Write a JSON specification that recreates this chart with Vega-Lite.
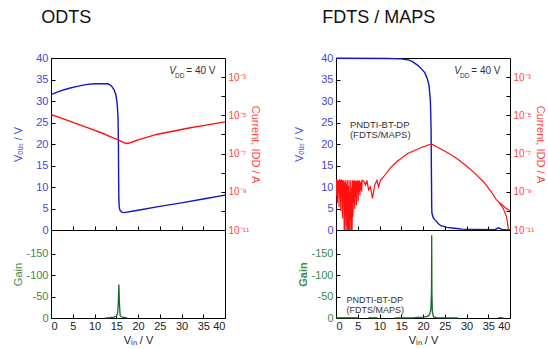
{
  "$schema": "https://vega.github.io/schema/vega-lite/v6.json",
  "background": "white",
  "padding": {"left": 12, "top": 8, "right": 2, "bottom": 2},
  "config": {
    "font": "Liberation Sans",
    "view": {"stroke": "black", "strokeWidth": 1},
    "axis": {"domain": false, "grid": false, "tickColor": "black", "tickSize": -4, "labelPadding": 7, "labelOverlap": false, "labelFontSize": 11, "titleFontSize": 11, "titleFontWeight": "normal", "labelFont": "Liberation Sans", "titleFont": "Liberation Sans", "labelColor": "#222", "titleColor": "#222"},
    "title": {"anchor": "start", "fontSize": 18, "fontWeight": "normal", "font": "Liberation Sans", "color": "#111", "offset": 25}
  },
  "datasets": {
    "odts_vout": [
      {"vin": 0, "vout": 31.5}, {"vin": 2, "vout": 32.3}, {"vin": 4, "vout": 32.9}, {"vin": 6, "vout": 33.4}, {"vin": 8, "vout": 33.8}, {"vin": 10, "vout": 34.0}, {"vin": 12, "vout": 34.05}, {"vin": 13.1, "vout": 34.0}, {"vin": 13.9, "vout": 33.5}, {"vin": 14.5, "vout": 32.6}, {"vin": 14.9, "vout": 31.5}, {"vin": 15.2, "vout": 29.5}, {"vin": 15.4, "vout": 26.5}, {"vin": 15.5, "vout": 20}, {"vin": 15.55, "vout": 12}, {"vin": 15.6, "vout": 7}, {"vin": 15.7, "vout": 5.2}, {"vin": 15.9, "vout": 4.5}, {"vin": 16.3, "vout": 4.15}, {"vin": 16.8, "vout": 4.05}, {"vin": 20, "vout": 4.6}, {"vin": 25, "vout": 5.5}, {"vin": 30, "vout": 6.3}, {"vin": 35, "vout": 7.2}, {"vin": 40, "vout": 8.1}
    ],
    "odts_idd": [
      {"vin": 0, "idd": 1.12e-5}, {"vin": 3, "idd": 6.31e-6}, {"vin": 6, "idd": 3.55e-6}, {"vin": 9, "idd": 2.0e-6}, {"vin": 12, "idd": 1.12e-6}, {"vin": 14, "idd": 7.08e-7}, {"vin": 15.6, "idd": 5.01e-7}, {"vin": 16.5, "idd": 3.98e-7}, {"vin": 17.3, "idd": 3.39e-7}, {"vin": 18, "idd": 3.55e-7}, {"vin": 19, "idd": 4.27e-7}, {"vin": 20, "idd": 5.25e-7}, {"vin": 22, "idd": 7.08e-7}, {"vin": 24.2, "idd": 1.0e-6}, {"vin": 28, "idd": 1.48e-6}, {"vin": 32, "idd": 2.24e-6}, {"vin": 36, "idd": 3.16e-6}, {"vin": 40, "idd": 4.57e-6}
    ],
    "odts_gain": [
      {"vin": 12.5, "gain": -0.5}, {"vin": 13.5, "gain": -1}, {"vin": 14.5, "gain": -2}, {"vin": 15.0, "gain": -4}, {"vin": 15.3, "gain": -10}, {"vin": 15.45, "gain": -30}, {"vin": 15.6, "gain": -78}, {"vin": 15.75, "gain": -30}, {"vin": 15.9, "gain": -6}, {"vin": 16.3, "gain": -2}, {"vin": 17.5, "gain": -0.5}
    ],
    "fdts_vout": [
      {"vin": 0, "vout": 39.95}, {"vin": 12, "vout": 39.9}, {"vin": 15, "vout": 39.8}, {"vin": 16.5, "vout": 39.6}, {"vin": 17.5, "vout": 39.2}, {"vin": 18.8, "vout": 38.3}, {"vin": 19.8, "vout": 37.3}, {"vin": 20.4, "vout": 36.6}, {"vin": 21.0, "vout": 35.2}, {"vin": 21.4, "vout": 33.5}, {"vin": 21.7, "vout": 30}, {"vin": 21.85, "vout": 24}, {"vin": 21.95, "vout": 12}, {"vin": 22.0, "vout": 5.5}, {"vin": 22.05, "vout": 4.0}, {"vin": 22.3, "vout": 3.0}, {"vin": 22.8, "vout": 2.3}, {"vin": 23.5, "vout": 1.5}, {"vin": 24.1, "vout": 1.0}, {"vin": 25.5, "vout": 0.6}, {"vin": 27.2, "vout": 0.4}, {"vin": 29, "vout": 0.2}, {"vin": 32, "vout": 0.1}, {"vin": 36.5, "vout": 0.05}, {"vin": 37.3, "vout": 0.5}, {"vin": 37.8, "vout": 0.3}, {"vin": 38.3, "vout": 0.05}, {"vin": 40, "vout": 0.0}
    ],
    "fdts_idd": [
      {"seg": "a", "vin": 0.0, "idd": 3.98e-9}, {"seg": "a", "vin": 0.1, "idd": 6.31e-10}, {"seg": "a", "vin": 0.2, "idd": 4.47e-9}, {"seg": "a", "vin": 0.3, "idd": 2.51e-10}, {"seg": "a", "vin": 0.4, "idd": 3.98e-9}, {"seg": "a", "vin": 0.5, "idd": 1.0e-9}, {"seg": "a", "vin": 0.6, "idd": 3.98e-9}, {"seg": "a", "vin": 0.7, "idd": 1.58e-10}, {"seg": "a", "vin": 0.8, "idd": 4.47e-9}, {"seg": "a", "vin": 0.9, "idd": 5.01e-10},
      {"seg": "a", "vin": 1.0, "idd": 3.98e-9}, {"seg": "a", "vin": 1.1, "idd": 1.0e-10}, {"seg": "a", "vin": 1.2, "idd": 4.47e-9}, {"seg": "a", "vin": 1.3, "idd": 3.16e-10}, {"seg": "a", "vin": 1.4, "idd": 3.98e-9}, {"seg": "a", "vin": 1.5, "idd": 3.98e-11}, {"seg": "a", "vin": 1.6, "idd": 3.98e-9}, {"seg": "a", "vin": 1.7, "idd": 7.94e-10}, {"seg": "a", "vin": 1.8, "idd": 3.98e-9}, {"seg": "a", "vin": 1.9, "idd": 3.16e-12},
      {"seg": "a", "vin": 2.0, "idd": 3.16e-9}, {"seg": "a", "vin": 2.1, "idd": 6.31e-11}, {"seg": "a", "vin": 2.2, "idd": 3.98e-9}, {"seg": "a", "vin": 2.3, "idd": 1.0e-12}, {"seg": "a", "vin": 2.4, "idd": 2.51e-9}, {"seg": "a", "vin": 2.5, "idd": 1.58e-11}, {"seg": "a", "vin": 2.6, "idd": 3.98e-9}, {"seg": "a", "vin": 2.7, "idd": 1.0e-12}, {"seg": "a", "vin": 2.8, "idd": 2.0e-9}, {"seg": "a", "vin": 2.9, "idd": 6.31e-12},
      {"seg": "a", "vin": 3.0, "idd": 3.98e-9}, {"seg": "a", "vin": 3.1, "idd": 1.0e-12}, {"seg": "a", "vin": 3.2, "idd": 1.0e-9}, {"seg": "a", "vin": 3.3, "idd": 3.16e-11}, {"seg": "a", "vin": 3.4, "idd": 3.98e-9}, {"seg": "a", "vin": 3.5, "idd": 1.0e-12}, {"seg": "a", "vin": 3.6, "idd": 1.58e-9}, {"seg": "a", "vin": 3.7, "idd": 1.0e-11}, {"seg": "a", "vin": 3.8, "idd": 3.98e-9}, {"seg": "a", "vin": 3.9, "idd": 5.01e-11},
      {"seg": "a", "vin": 4.0, "idd": 3.55e-9}, {"seg": "a", "vin": 4.1, "idd": 2.51e-10}, {"seg": "a", "vin": 4.2, "idd": 3.98e-9}, {"seg": "a", "vin": 4.3, "idd": 1.26e-10}, {"seg": "a", "vin": 4.4, "idd": 3.55e-9}, {"seg": "a", "vin": 4.5, "idd": 5.01e-10}, {"seg": "a", "vin": 4.6, "idd": 3.98e-9}, {"seg": "a", "vin": 4.7, "idd": 2.0e-10}, {"seg": "a", "vin": 4.8, "idd": 3.55e-9}, {"seg": "a", "vin": 4.9, "idd": 7.94e-10},
      {"seg": "a", "vin": 5.0, "idd": 3.98e-9}, {"seg": "a", "vin": 5.1, "idd": 3.16e-10}, {"seg": "a", "vin": 5.2, "idd": 3.55e-9}, {"seg": "a", "vin": 5.3, "idd": 1.0e-9}, {"seg": "a", "vin": 5.4, "idd": 3.98e-9}, {"seg": "a", "vin": 5.5, "idd": 6.31e-10}, {"seg": "a", "vin": 5.6, "idd": 3.16e-9}, {"seg": "a", "vin": 5.7, "idd": 1.26e-9}, {"seg": "a", "vin": 5.8, "idd": 3.55e-9}, {"seg": "a", "vin": 5.9, "idd": 1.0e-9},
      {"seg": "a", "vin": 6.0, "idd": 3.98e-9}, {"seg": "a", "vin": 6.4, "idd": 3.55e-9}, {"seg": "a", "vin": 6.8, "idd": 2.24e-9}, {"seg": "a", "vin": 7.1, "idd": 3.98e-9}, {"seg": "a", "vin": 7.5, "idd": 1.26e-9}, {"seg": "a", "vin": 7.9, "idd": 1.78e-9}, {"seg": "a", "vin": 8.4, "idd": 4.47e-10}, {"seg": "a", "vin": 8.9, "idd": 2.24e-9}, {"seg": "a", "vin": 9.4, "idd": 3.98e-9}, {"seg": "a", "vin": 9.8, "idd": 1.78e-9},
      {"seg": "a", "vin": 10.2, "idd": 3.98e-9}, {"seg": "a", "vin": 11.0, "idd": 6.31e-9}, {"seg": "a", "vin": 12.5, "idd": 1.78e-8}, {"seg": "a", "vin": 14.1, "idd": 3.98e-8}, {"seg": "a", "vin": 16.5, "idd": 1.0e-7}, {"seg": "a", "vin": 19.5, "idd": 2.0e-7}, {"seg": "a", "vin": 21.9, "idd": 3.16e-7}, {"seg": "a", "vin": 24, "idd": 1.78e-7}, {"seg": "a", "vin": 26, "idd": 1.0e-7}, {"seg": "a", "vin": 28, "idd": 5.01e-8},
      {"seg": "a", "vin": 30, "idd": 2.24e-8}, {"seg": "a", "vin": 32, "idd": 8.91e-9}, {"seg": "a", "vin": 34, "idd": 3.16e-9}, {"seg": "a", "vin": 35.7, "idd": 1.0e-9}, {"seg": "a", "vin": 36.8, "idd": 3.98e-10}, {"seg": "a", "vin": 38, "idd": 2.24e-10}, {"seg": "a", "vin": 39, "idd": 1.41e-10}, {"seg": "a", "vin": 40, "idd": 1.0e-10},
      {"seg": "b", "vin": 37.5, "idd": 2.82e-10}, {"seg": "b", "vin": 38.5, "idd": 1.26e-10}, {"seg": "b", "vin": 39.2, "idd": 5.01e-11}, {"seg": "b", "vin": 39.6, "idd": 1.26e-11}, {"seg": "b", "vin": 39.8, "idd": 3.16e-12}
    ],
    "fdts_gain": [
      {"seg": "a", "vin": 0, "gain": -0.5}, {"seg": "a", "vin": 5, "gain": -0.5},
      {"seg": "b", "vin": 7.5, "gain": -0.5}, {"seg": "b", "vin": 9.5, "gain": -0.5},
      {"seg": "c", "vin": 13.5, "gain": -0.5}, {"seg": "c", "vin": 18, "gain": -1}, {"seg": "c", "vin": 20, "gain": -2}, {"seg": "c", "vin": 21, "gain": -4}, {"seg": "c", "vin": 21.5, "gain": -8}, {"seg": "c", "vin": 21.8, "gain": -20}, {"seg": "c", "vin": 21.95, "gain": -60}, {"seg": "c", "vin": 22.0, "gain": -193}, {"seg": "c", "vin": 22.05, "gain": -60}, {"seg": "c", "vin": 22.15, "gain": -15}, {"seg": "c", "vin": 22.4, "gain": -3}, {"seg": "c", "vin": 23, "gain": -1}, {"seg": "c", "vin": 28, "gain": -0.5},
      {"seg": "d", "vin": 37.3, "gain": -1}, {"seg": "d", "vin": 38.5, "gain": -0.5}
    ]
  },
  "spacing": 31,
  "hconcat": [
    {
      "title": {"text": "ODTS", "dx": 29},
      "spacing": 0,
      "bounds": "flush",
      "vconcat": [
        {
          "width": 174, "height": 172,
          "layer": [
            {
              "layer": [
                {"data": {"name": "odts_vout"}, "mark": {"type": "line", "color": "#1414c8", "strokeWidth": 1.4},
                 "encoding": {
                   "x": {"field": "vin", "type": "quantitative", "scale": {"domain": [0, 40], "nice": false}, "axis": {"values": [0, 5, 10, 15, 20, 25, 30, 35, 40], "labels": false, "title": null}},
                   "y": {"field": "vout", "type": "quantitative", "scale": {"domain": [0, 40], "nice": false}, "axis": {"values": [0, 5, 10, 15, 20, 25, 30, 35, 40], "title": "Vₒᵤₜ / V", "labelColor": "#4646dc", "titleColor": "#4646dc", "titlePadding": 12}}
                 }},
                {"data": {"values": [{}]}, "mark": {"type": "text", "text": "V", "fontStyle": "italic", "fontSize": 10, "align": "left", "baseline": "alphabetic", "color": "#333"}, "encoding": {"x": {"datum": 27.2, "type": "quantitative", "axis": {"values": [0, 5, 10, 15, 20, 25, 30, 35, 40], "labels": false, "title": null}}, "y": {"datum": 36.2, "type": "quantitative", "axis": {"values": [0, 5, 10, 15, 20, 25, 30, 35, 40], "title": "Vₒᵤₜ / V", "labelColor": "#4646dc", "titleColor": "#4646dc", "titlePadding": 12}}}},
                {"data": {"values": [{}]}, "mark": {"type": "text", "text": "DD", "fontSize": 6.5, "align": "left", "baseline": "alphabetic", "color": "#333"}, "encoding": {"x": {"datum": 28.5, "type": "quantitative", "axis": {"values": [0, 5, 10, 15, 20, 25, 30, 35, 40], "labels": false, "title": null}}, "y": {"datum": 35.4, "type": "quantitative", "axis": {"values": [0, 5, 10, 15, 20, 25, 30, 35, 40], "title": "Vₒᵤₜ / V", "labelColor": "#4646dc", "titleColor": "#4646dc", "titlePadding": 12}}}},
                {"data": {"values": [{}]}, "mark": {"type": "text", "text": "= 40 V", "fontSize": 10, "align": "left", "baseline": "alphabetic", "color": "#333"}, "encoding": {"x": {"datum": 31.1, "type": "quantitative", "axis": {"values": [0, 5, 10, 15, 20, 25, 30, 35, 40], "labels": false, "title": null}}, "y": {"datum": 36.2, "type": "quantitative", "axis": {"values": [0, 5, 10, 15, 20, 25, 30, 35, 40], "title": "Vₒᵤₜ / V", "labelColor": "#4646dc", "titleColor": "#4646dc", "titlePadding": 12}}}}
              ]
            },
            {"data": {"name": "odts_idd"}, "mark": {"type": "line", "color": "#ff1010", "strokeWidth": 1.4, "clip": true},
             "encoding": {
               "x": {"field": "vin", "type": "quantitative", "axis": {"values": [0, 5, 10, 15, 20, 25, 30, 35, 40], "labels": false, "title": null}},
               "y": {"field": "idd", "type": "quantitative", "scale": {"type": "log", "domain": [1e-11, 1e-2]}, "axis": {"orient": "right", "values": [1e-11, 1e-10, 1e-9, 1e-8, 1e-7, 1e-6, 1e-5, 1e-4, 1e-3], "labelExpr": "round(log(datum.value)/LN10) == -3 ? '10⁻³' : round(log(datum.value)/LN10) == -5 ? '10⁻⁵' : round(log(datum.value)/LN10) == -7 ? '10⁻⁷' : round(log(datum.value)/LN10) == -9 ? '10⁻⁹' : round(log(datum.value)/LN10) == -11 ? '10⁻¹¹' : ''", "labelFontSize": 10, "title": "Current, IDD / A", "labelColor": "#ff4848", "titleColor": "#ff4848", "titlePadding": 1}}
             }}
          ],
          "resolve": {"scale": {"y": "independent"}}
        },
        {
          "width": 174, "height": 88,
          "data": {"name": "odts_gain"},
          "mark": {"type": "line", "color": "#1b6a2a", "strokeWidth": 1.3},
          "encoding": {
            "x": {"field": "vin", "type": "quantitative", "scale": {"domain": [0, 40], "nice": false}, "axis": {"values": [0, 5, 10, 15, 20, 25, 30, 35, 40], "title": "Vᵢₙ / V", "labelPadding": 6, "titlePadding": 3}},
            "y": {"field": "gain", "type": "quantitative", "scale": {"domain": [0, -205], "nice": false}, "axis": {"values": [0, -50, -100, -150], "labelExpr": "datum.value == 0 ? '0' : '-' + abs(datum.value)", "title": "Gain", "labelColor": "#3c8c4a", "titleColor": "#3c8c4a", "titlePadding": 2}}
          }
        }
      ]
    },
    {
      "title": {"text": "FDTS / MAPS", "dx": 29},
      "spacing": 0,
      "bounds": "flush",
      "vconcat": [
        {
          "width": 174, "height": 172,
          "layer": [
            {
              "layer": [
                {"data": {"name": "fdts_vout"}, "mark": {"type": "line", "color": "#1414c8", "strokeWidth": 1.4},
                 "encoding": {
                   "x": {"field": "vin", "type": "quantitative", "scale": {"domain": [0, 40], "nice": false}, "axis": {"values": [0, 5, 10, 15, 20, 25, 30, 35, 40], "labels": false, "title": null}},
                   "y": {"field": "vout", "type": "quantitative", "scale": {"domain": [0, 40], "nice": false}, "axis": {"values": [0, 5, 10, 15, 20, 25, 30, 35, 40], "title": "Vₒᵤₜ / V", "labelColor": "#4646dc", "titleColor": "#4646dc", "titlePadding": 16}}
                 }},
                {"data": {"values": [{}]}, "mark": {"type": "text", "text": "V", "fontStyle": "italic", "fontSize": 10, "align": "left", "baseline": "alphabetic", "color": "#333"}, "encoding": {"x": {"datum": 27.2, "type": "quantitative", "axis": {"values": [0, 5, 10, 15, 20, 25, 30, 35, 40], "labels": false, "title": null}}, "y": {"datum": 36.2, "type": "quantitative", "axis": {"values": [0, 5, 10, 15, 20, 25, 30, 35, 40], "title": "Vₒᵤₜ / V", "labelColor": "#4646dc", "titleColor": "#4646dc", "titlePadding": 16}}}},
                {"data": {"values": [{}]}, "mark": {"type": "text", "text": "DD", "fontSize": 6.5, "align": "left", "baseline": "alphabetic", "color": "#333"}, "encoding": {"x": {"datum": 28.5, "type": "quantitative", "axis": {"values": [0, 5, 10, 15, 20, 25, 30, 35, 40], "labels": false, "title": null}}, "y": {"datum": 35.4, "type": "quantitative", "axis": {"values": [0, 5, 10, 15, 20, 25, 30, 35, 40], "title": "Vₒᵤₜ / V", "labelColor": "#4646dc", "titleColor": "#4646dc", "titlePadding": 16}}}},
                {"data": {"values": [{}]}, "mark": {"type": "text", "text": "= 40 V", "fontSize": 10, "align": "left", "baseline": "alphabetic", "color": "#333"}, "encoding": {"x": {"datum": 31.1, "type": "quantitative", "axis": {"values": [0, 5, 10, 15, 20, 25, 30, 35, 40], "labels": false, "title": null}}, "y": {"datum": 36.2, "type": "quantitative", "axis": {"values": [0, 5, 10, 15, 20, 25, 30, 35, 40], "title": "Vₒᵤₜ / V", "labelColor": "#4646dc", "titleColor": "#4646dc", "titlePadding": 16}}}},
                {"data": {"values": [{}]}, "mark": {"type": "text", "text": "PNDTI-BT-DP", "fontSize": 9.5, "align": "left", "baseline": "alphabetic", "color": "#333"}, "encoding": {"x": {"datum": 3.2, "type": "quantitative", "axis": {"values": [0, 5, 10, 15, 20, 25, 30, 35, 40], "labels": false, "title": null}}, "y": {"datum": 23.8, "type": "quantitative", "axis": {"values": [0, 5, 10, 15, 20, 25, 30, 35, 40], "title": "Vₒᵤₜ / V", "labelColor": "#4646dc", "titleColor": "#4646dc", "titlePadding": 16}}}},
                {"data": {"values": [{}]}, "mark": {"type": "text", "text": "(FDTS/MAPS)", "fontSize": 9.5, "align": "left", "baseline": "alphabetic", "color": "#333"}, "encoding": {"x": {"datum": 3.2, "type": "quantitative", "axis": {"values": [0, 5, 10, 15, 20, 25, 30, 35, 40], "labels": false, "title": null}}, "y": {"datum": 21.4, "type": "quantitative", "axis": {"values": [0, 5, 10, 15, 20, 25, 30, 35, 40], "title": "Vₒᵤₜ / V", "labelColor": "#4646dc", "titleColor": "#4646dc", "titlePadding": 16}}}}
              ]
            },
            {"data": {"name": "fdts_idd"}, "mark": {"type": "line", "color": "#ff1010", "strokeWidth": 1.2, "clip": true},
             "encoding": {
               "x": {"field": "vin", "type": "quantitative", "axis": {"values": [0, 5, 10, 15, 20, 25, 30, 35, 40], "labels": false, "title": null}},
               "detail": {"field": "seg"},
               "y": {"field": "idd", "type": "quantitative", "scale": {"type": "log", "domain": [1e-11, 1e-2]}, "axis": {"orient": "right", "values": [1e-11, 1e-10, 1e-9, 1e-8, 1e-7, 1e-6, 1e-5, 1e-4, 1e-3], "labelExpr": "round(log(datum.value)/LN10) == -3 ? '10⁻³' : round(log(datum.value)/LN10) == -5 ? '10⁻⁵' : round(log(datum.value)/LN10) == -7 ? '10⁻⁷' : round(log(datum.value)/LN10) == -9 ? '10⁻⁹' : round(log(datum.value)/LN10) == -11 ? '10⁻¹¹' : ''", "labelFontSize": 10, "title": "Current, IDD / A", "labelColor": "#ff4848", "titleColor": "#ff4848", "titlePadding": 1}}
             }}
          ],
          "resolve": {"scale": {"y": "independent"}}
        },
        {
          "width": 174, "height": 88,
          "layer": [
            {"data": {"name": "fdts_gain"}, "mark": {"type": "line", "color": "#1b6a2a", "strokeWidth": 1.3},
             "encoding": {
               "x": {"field": "vin", "type": "quantitative", "scale": {"domain": [0, 40], "nice": false}, "axis": {"values": [0, 5, 10, 15, 20, 25, 30, 35, 40], "title": "Vᵢₙ / V", "labelPadding": 6, "titlePadding": 3}},
               "y": {"field": "gain", "type": "quantitative", "scale": {"domain": [0, -205], "nice": false}, "axis": {"values": [0, -50, -100, -150], "labelExpr": "datum.value == 0 ? '0' : '-' + abs(datum.value)", "title": "Gain", "titleFontWeight": "bold", "labelColor": "#3c8c4a", "titleColor": "#3c8c4a", "titlePadding": 2}},
               "detail": {"field": "seg"}
             }},
            {"data": {"values": [{}]}, "mark": {"type": "text", "text": "PNDTI-BT-DP", "fontSize": 9, "align": "left", "baseline": "alphabetic", "color": "#333"}, "encoding": {"x": {"datum": 2.4, "type": "quantitative", "axis": {"values": [0, 5, 10, 15, 20, 25, 30, 35, 40], "title": "Vᵢₙ / V", "labelPadding": 6, "titlePadding": 3}}, "y": {"datum": -34, "type": "quantitative", "axis": {"values": [0, -50, -100, -150], "labelExpr": "datum.value == 0 ? '0' : '-' + abs(datum.value)", "title": "Gain", "titleFontWeight": "bold", "labelColor": "#3c8c4a", "titleColor": "#3c8c4a", "titlePadding": 2}}}},
            {"data": {"values": [{}]}, "mark": {"type": "text", "text": "(FDTS/MAPS)", "fontSize": 9, "align": "left", "baseline": "alphabetic", "color": "#333"}, "encoding": {"x": {"datum": 2.4, "type": "quantitative", "axis": {"values": [0, 5, 10, 15, 20, 25, 30, 35, 40], "title": "Vᵢₙ / V", "labelPadding": 6, "titlePadding": 3}}, "y": {"datum": -11, "type": "quantitative", "axis": {"values": [0, -50, -100, -150], "labelExpr": "datum.value == 0 ? '0' : '-' + abs(datum.value)", "title": "Gain", "titleFontWeight": "bold", "labelColor": "#3c8c4a", "titleColor": "#3c8c4a", "titlePadding": 2}}}}
          ]
        }
      ]
    }
  ]
}
